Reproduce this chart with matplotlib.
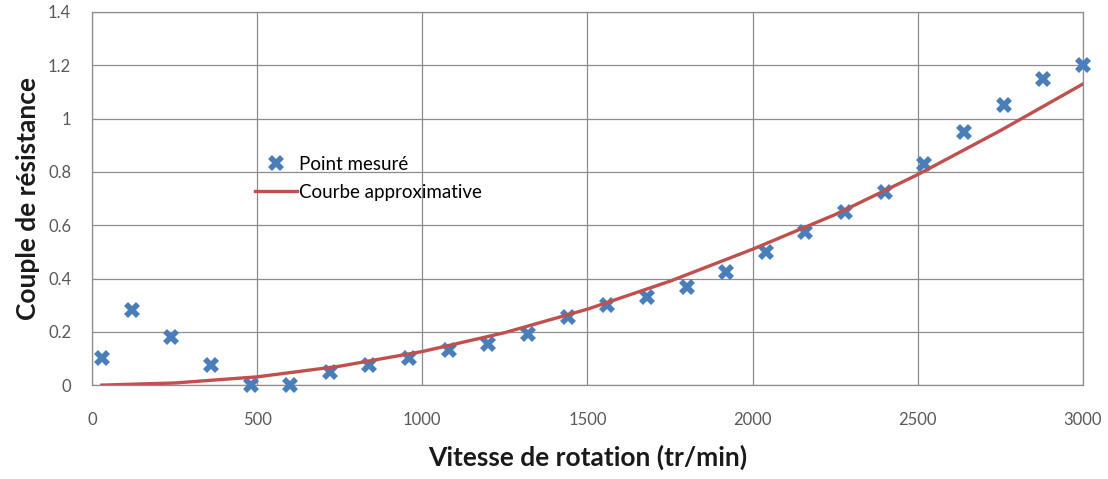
import matplotlib
matplotlib.use("Agg")
from matplotlib import pyplot as plt

plt.rcParams['font.family'] = ['Lato', 'DejaVu Sans']

# vitesse (tr/min) et couple mesuré
vitesse = [30, 120, 240, 360, 480, 600, 720, 840, 960, 1080, 1200, 1320, 1440,
           1560, 1680, 1800, 1920, 2040, 2160, 2280, 2400, 2520, 2640, 2760, 2880, 3000]
couple = [0.10, 0.28, 0.18, 0.075, 0.0, 0.0, 0.05, 0.075, 0.10, 0.13, 0.155, 0.19, 0.255,
          0.30, 0.33, 0.37, 0.425, 0.50, 0.575, 0.65, 0.725, 0.83, 0.95, 1.05, 1.15, 1.20]

# courbe approximative relevée
vitesse_courbe = [30, 250, 500, 750, 1000, 1250, 1500, 1750, 2000, 2250, 2500, 2750, 3000]
couple_courbe = [0.0, 0.008, 0.031, 0.071, 0.126, 0.197, 0.285, 0.39, 0.51, 0.64, 0.79, 0.955, 1.13]

x_ticks = [0, 500, 1000, 1500, 2000, 2500, 3000]
y_ticks = [0, 0.2, 0.4, 0.6, 0.8, 1.0, 1.2, 1.4]
y_labels = ["0", "0.2", "0.4", "0.6", "0.8", "1", "1.2", "1.4"]

fig = plt.figure(figsize=(11.08, 4.79), dpi=100)
ax = fig.add_axes([0.083, 0.196, 0.8944, 0.779])

ax.plot(vitesse, couple, linestyle="none", marker="X", markersize=11,
        color="#4a7ebb", markeredgewidth=0, label="Point mesuré", zorder=3,
        clip_on=False)
ax.plot(vitesse_courbe, couple_courbe, color="#c0504d", linewidth=2.4,
        label="Courbe approximative", zorder=4)

ax.set_xlim(0, 3000)
ax.set_ylim(0, 1.4)
ax.set_xticks(x_ticks)
ax.set_yticks(y_ticks)
ax.set_yticklabels(y_labels)
ax.grid(True, color="#8c8c8c", linewidth=0.9)
ax.set_axisbelow(True)
for s in ax.spines.values():
    s.set_color("#8c8c8c")
    s.set_linewidth(0.9)
ax.tick_params(length=0, labelsize=12, labelcolor="#595959")
ax.tick_params(axis="x", pad=19)
ax.tick_params(axis="y", pad=15)

ax.set_xlabel("Vitesse de rotation (tr/min)", fontsize=19, fontweight="bold",
              color="#1a1a1a", labelpad=12)
ax.set_ylabel("Couple de résistance", fontsize=19, fontweight="bold",
              color="#1a1a1a", labelpad=6)

ax.legend(loc="upper left", bbox_to_anchor=(0.165, 0.615), frameon=False,
          fontsize=13.5, handlelength=2.2, handletextpad=0.1, labelspacing=0.6,
          borderpad=0, borderaxespad=0)

plt.savefig("out.png", dpi=100)
